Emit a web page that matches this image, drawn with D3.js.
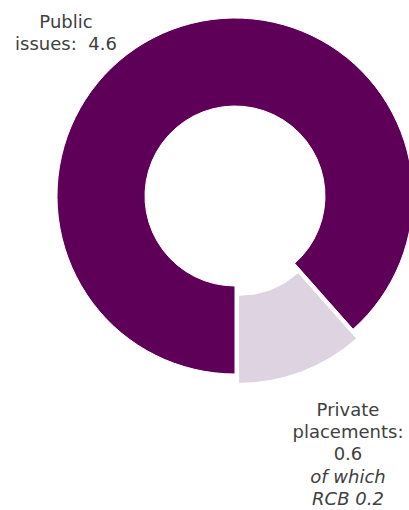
<!DOCTYPE html>
<html>
<head>
<meta charset="utf-8">
<script src="https://cdn.jsdelivr.net/npm/d3@7"></script>
<style>
  html, body { margin: 0; padding: 0; background: #fff; }
  svg { display: block; }
  text { font-family: "DejaVu Sans", Verdana, sans-serif; fill: #404040; }
</style>
</head>
<body>
<svg id="chart" width="409" height="510"></svg>
<script>
// Bond issuance split (EUR bn)
const categories = ["Public issues", "Private placements"];
const values = [4.6, 0.6];
const colors = ["#5f0058", "#ded3e0"];
const exploded = [false, true];

// Label text, one array of lines per category
const labelLines = [
  [{ t: "Public", i: false }, { t: "issues:\u00a0 4.6", i: false }],
  [{ t: "Private", i: false }, { t: "placements:", i: false }, { t: "0.6", i: false },
   { t: "of which", i: true }, { t: "RCB 0.2", i: true }]
];

const svg = d3.select("#chart");
const cx = 235, cy = 196;
const outerR = 178, innerR = 90, explodeBy = 10;

const pie = d3.pie().sort(null).value(d => d)
  .startAngle(Math.PI).endAngle(3 * Math.PI);
const arcs = pie(values);
const arc = d3.arc().innerRadius(innerR).outerRadius(outerR);

const g = svg.append("g").attr("transform", `translate(${cx},${cy})`);

g.selectAll("path")
  .data(arcs)
  .join("path")
  .attr("d", arc)
  .attr("fill", (d, i) => colors[i])
  .attr("stroke", "#fff")
  .attr("stroke-width", 1)
  .attr("transform", (d, i) => {
    if (!exploded[i]) return null;
    const mid = (d.startAngle + d.endAngle) / 2;
    return `translate(${Math.sin(mid) * explodeBy},${-Math.cos(mid) * explodeBy})`;
  });

// Labels placed outside the ring
const labelPos = [
  { x: 66, y: 27.5 },
  { x: 348, y: 416 }
];
const lineH = 22.2;

labelLines.forEach((lines, k) => {
  const t = svg.append("text")
    .attr("text-anchor", "middle")
    .attr("font-size", "18px")
    .attr("xml:space", "preserve");
  lines.forEach((ln, j) => {
    t.append("tspan")
      .attr("x", labelPos[k].x)
      .attr("y", labelPos[k].y + j * lineH)
      .attr("font-style", ln.i ? "italic" : "normal")
      .text(ln.t);
  });
});
</script>
</body>
</html>
